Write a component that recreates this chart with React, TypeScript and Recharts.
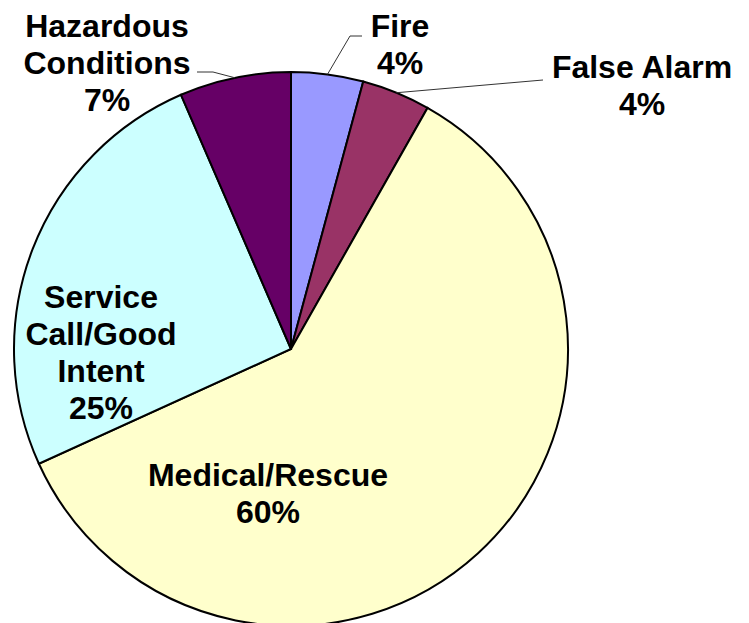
import React from 'react';
import { PieChart, Pie, Cell } from 'recharts';

// incident types, clockwise from 12 o'clock
const categories = ['Fire', 'False Alarm', 'Medical/Rescue', 'Service\nCall/Good\nIntent', 'Hazardous\nConditions'];
const shares = [4.2, 4.0, 60.0, 25.3, 6.5];
const colors = ['#9999FF', '#993366', '#FFFFCC', '#CCFFFF', '#660066'];

// label placement relative to the pie centre (first baseline, centre of text)
const labelPos = [
    { dx: 109, dy: -312 },
    { dx: 351, dy: -271 },
    { dx: -23, dy: 137 },
    { dx: -190, dy: -41 },
    { dx: -184, dy: -312 },
];
// leader line bend points relative to the pie centre (none for inner labels)
const leaders: ({ x: number; y: number }[] | null)[] = [
    [{ x: 59, y: -313 }, { x: 71, y: -313 }],
    [{ x: 252, y: -269 }],
    null,
    null,
    [{ x: -78, y: -277 }, { x: -94, y: -277 }],
];

const data = categories.map((name, i) => ({ name, value: shares[i] }));

const RAD = Math.PI / 180;
const FONT = '"Liberation Sans", Arial, sans-serif';
const LINE_H = 37;

const renderLabel = (props: any) => {
    const { cx, cy, midAngle, outerRadius, index, name, value } = props;
    const pos = labelPos[index];
    const lines = [...String(name).split('\n'), `${Math.round(value)}%`];
    const lead = leaders[index];
    let path = '';
    if (lead) {
        const ex = cx + outerRadius * Math.cos(-midAngle * RAD);
        const ey = cy + outerRadius * Math.sin(-midAngle * RAD);
        path = `M${ex},${ey}` + lead.map(p => ` L${cx + p.x},${cy + p.y}`).join('');
    }
    return (
        <g>
            {path && <path d={path} stroke="#333" strokeWidth={1} fill="none" />}
            <text
                x={cx + pos.dx}
                y={cy + pos.dy}
                textAnchor="middle"
                fontFamily={FONT}
                fontWeight="bold"
                fontSize={32}
                fill="#000"
            >
                {lines.map((l, i) => (
                    <tspan key={i} x={cx + pos.dx} dy={i === 0 ? 0 : LINE_H}>{l}</tspan>
                ))}
            </text>
        </g>
    );
};

export default function App() {
    return (
        <div style={{ position: 'absolute', left: 0, top: 0, background: '#fff' }}>
            <PieChart width={749} height={623} margin={{ top: 0, right: 0, bottom: 0, left: 0 }}>
                <Pie
                    data={data}
                    dataKey="value"
                    nameKey="name"
                    cx={291}
                    cy={349}
                    outerRadius={277}
                    startAngle={90}
                    endAngle={-270}
                    stroke="#000"
                    strokeWidth={2}
                    label={renderLabel}
                    labelLine={false}
                    isAnimationActive={false}
                >
                    {data.map((d, i) => (
                        <Cell key={d.name} fill={colors[i]} />
                    ))}
                </Pie>
            </PieChart>
        </div>
    );
}
